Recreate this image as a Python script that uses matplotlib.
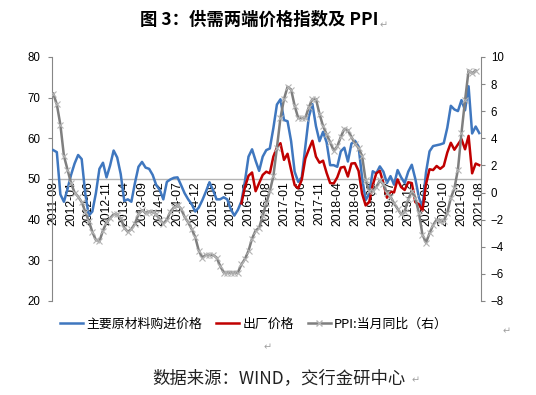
import matplotlib
matplotlib.use('Agg')
import matplotlib.pyplot as plt
from matplotlib.lines import Line2D
import numpy as np

# months 2011-08 .. 2021-08
months = []
y, m = 2011, 8
while (y, m) <= (2021, 8):
    months.append('%d-%02d' % (y, m))
    m += 1
    if m > 12:
        y, m = y + 1, 1

# 主要原材料购进价格 (PMI)
purchase = [57.1, 56.6, 46.2, 44.4, 47.5,
            51.0, 53.8, 55.9, 54.9, 46.5, 41.0, 42.0, 46.5, 52.5, 54.0, 50.4, 53.3,
            57.0, 55.3, 51.2, 44.6, 45.0, 44.4, 49.0, 53.0, 54.2, 52.8, 52.5, 51.0,
            48.5, 47.3, 45.0, 49.3, 49.9, 50.3, 50.4, 48.5, 46.5, 45.0, 43.8, 42.0,
            43.0, 44.8, 46.9, 49.2, 47.3, 45.0, 45.0, 45.5, 45.0, 42.6, 41.0, 42.4,
            44.5, 49.5, 55.5, 57.3, 54.5, 52.0, 55.5, 57.1, 57.5, 62.5, 68.3, 69.6,
            64.5, 64.2, 59.3, 51.8, 49.3, 50.4, 57.9, 65.3, 68.4, 63.0, 59.3, 61.6,
            59.0, 53.4, 53.4, 53.0, 56.8, 57.7, 54.3, 58.7, 59.4, 58.0, 50.3, 44.8,
            46.3, 51.9, 51.4, 53.1, 51.8, 49.0, 50.7, 48.6, 52.2, 50.4, 49.0, 51.8,
            53.5, 50.0, 45.5, 43.0, 51.6, 56.8, 58.1, 58.3, 58.5, 58.8, 62.6, 68.0,
            67.1, 66.7, 69.4, 66.9, 72.8, 61.2, 62.9, 61.3]

# 出厂价格 (from 2016-01)
output = [np.nan] * 53 + [
            44.0, 48.0, 50.8, 51.6, 47.0, 49.0, 51.0, 51.8, 51.4, 55.5, 57.7, 58.8,
            54.7, 56.2, 52.2, 48.5, 47.7, 49.8, 55.0, 57.3, 59.4, 55.5, 54.0, 54.5,
            51.5, 49.0, 48.9, 50.4, 52.8, 53.0, 50.6, 53.8, 53.9, 52.0, 46.4, 43.5,
            44.3, 48.5, 51.4, 52.0, 49.0, 45.4, 46.9, 46.7, 49.9, 48.0, 47.3, 49.2,
            49.0, 44.3, 43.8, 42.2, 48.7, 52.4, 52.2, 53.2, 52.5, 53.2, 56.5, 58.9,
            57.2, 58.5, 59.8, 57.3, 60.6, 51.4, 53.8, 53.4]

# PPI 当月同比 (right axis), no value yet for 2021-08
ppi = [7.3, 6.5, 5.0, 2.7, 1.7,
       0.7, 0.0, -0.3, -0.7, -1.4, -2.1, -2.9, -3.5, -3.6, -2.8, -2.2, -1.9,
       -1.6, -1.6, -1.9, -2.6, -2.9, -2.7, -2.3, -1.6, -1.3, -1.5, -1.4, -1.4,
       -1.6, -2.0, -2.3, -2.0, -1.4, -1.1, -0.9, -1.2, -1.8, -2.2, -2.7, -3.3,
       -4.3, -4.8, -4.6, -4.6, -4.6, -4.8, -5.4, -5.9, -5.9, -5.9, -5.9, -5.9,
       -5.3, -4.9, -4.3, -3.4, -2.8, -2.6, -1.7, -0.8, 0.1, 1.2, 3.3, 5.5,
       6.9, 7.8, 7.6, 6.4, 5.5, 5.5, 5.5, 6.3, 6.9, 6.9, 5.8, 4.9,
       4.3, 3.7, 3.1, 3.4, 4.1, 4.7, 4.6, 4.1, 3.6, 3.3, 2.7, 0.9,
       0.1, 0.1, 0.4, 0.9, 0.6, 0.0, -0.3, -0.8, -1.2, -1.6, -1.4, -0.5,
       0.1, -0.4, -1.5, -3.1, -3.7, -3.0, -2.4, -2.0, -2.1, -2.1, -1.5, -0.4,
       0.3, 1.7, 4.4, 6.8, 9.0, 8.8, 9.0, np.nan]

x = np.arange(len(months))
blue = '#3f77bf'
red = '#c00000'
grey = '#7f7f7f'
axcol = '#868686'

fig = plt.figure(figsize=(5.36, 3.95), dpi=100)
ax = fig.add_axes([0.0961, 0.238, 0.8013, 0.6177])
ax2 = ax.twinx()

ax.plot(x, purchase, color=blue, lw=1.8, zorder=3)
ax.plot(x, output, color=red, lw=1.8, zorder=3)
ax2.plot(x, ppi, color=grey, lw=1.8, marker='x', ms=4.5, mec='#b4b4b4', mew=0.8)

ax.set_xlim(-0.5, len(months) - 0.5)
ax.set_ylim(20, 80)
ax2.set_ylim(-8, 10)
ax.set_yticks(np.arange(20, 81, 10))
ax2.set_yticks(np.arange(-8, 11, 2))

ax.axhline(50, color='#b4b4b4', lw=1.0, zorder=1)
ax.set_xticks([])
for i in range(0, len(months), 5):
    ax.text(i, 49.4, months[i], rotation=90, ha='center', va='top',
            fontsize=8.8, family='Liberation Sans', zorder=2)

for a in (ax, ax2):
    a.spines['top'].set_visible(False)
    a.spines['bottom'].set_visible(False)
    a.spines['left'].set_color(axcol)
    a.spines['right'].set_color(axcol)
    a.tick_params(axis='y', colors='#000000', labelsize=8.3, length=3,
                  color=axcol, width=0.8)
    for lab in a.get_yticklabels():
        lab.set_family('Liberation Sans')
ax.tick_params(axis='y', pad=5)
ax2.tick_params(axis='y', pad=4)
ax2.spines['left'].set_visible(False)
ax.spines['right'].set_visible(False)

handles = [Line2D([], [], color=blue, lw=1.8),
           Line2D([], [], color=red, lw=1.8),
           Line2D([], [], color=grey, lw=1.8, marker='x', ms=4.5, mec='#b4b4b4')]
labels = ['主要原材料购进价格', '出厂价格', 'PPI:当月同比（右）']
fig.legend(handles, labels, loc='center', bbox_to_anchor=(0.474, 0.18), ncol=3,
           frameon=False, handlelength=1.8, handletextpad=0.25, columnspacing=1.05,
           prop={'family': 'Noto Sans CJK SC', 'size': 9.3})

fig.text(0.483, 0.949, '图 3：供需两端价格指数及 PPI', ha='center', va='center',
         fontsize=12.5, fontweight='bold', family='Noto Sans CJK SC')
fig.text(0.521, 0.043, '数据来源：WIND，交行金研中心', ha='center', va='center',
         fontsize=12.5, family='Noto Sans CJK SC', color='#222222')

# word paragraph marks
for px, py in [(0.716, 0.935), (0.945, 0.162), (0.5, 0.12), (0.775, 0.038)]:
    fig.text(px, py, '↵', fontsize=7, color='#a0a0a0', family='DejaVu Sans',
             ha='center', va='center')

fig.savefig('out.png', dpi=100)
